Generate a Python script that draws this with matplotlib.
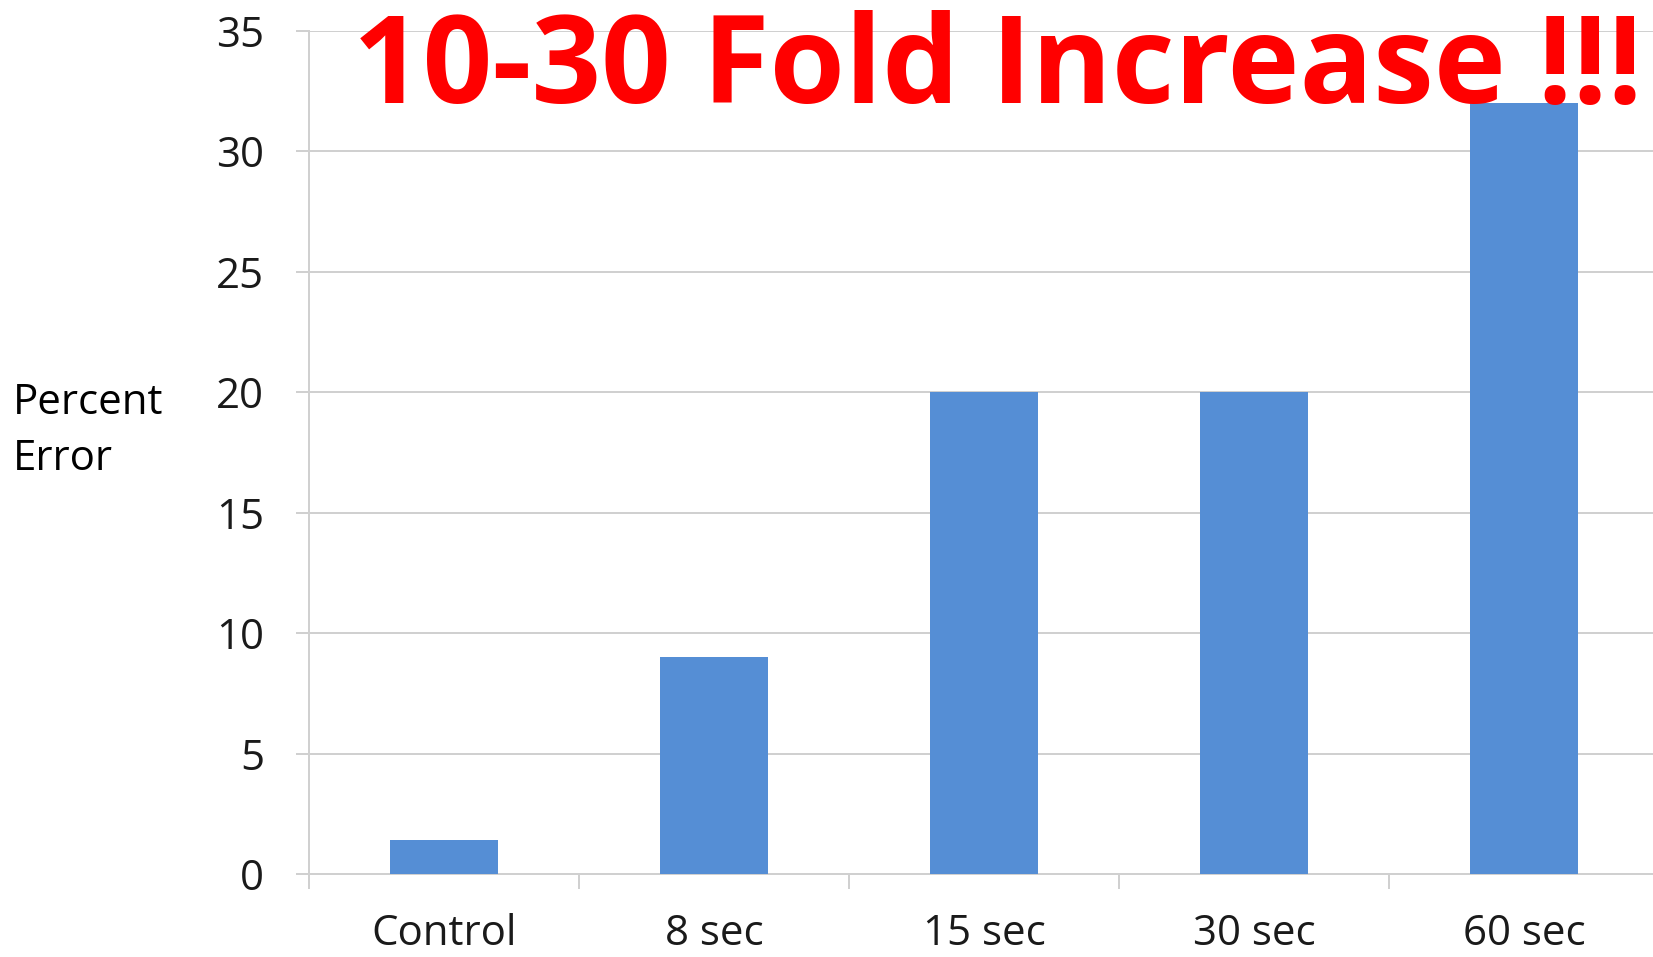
import matplotlib
matplotlib.use("Agg")
import matplotlib.pyplot as plt

categories = ["Control", "8 sec", "15 sec", "30 sec", "60 sec"]
percent_error = [1.4, 9, 20, 20, 32]
y_ticks = [0, 5, 10, 15, 20, 25, 30, 35]

W, H = 1653, 957
DPI = 72

plt.rcParams["font.family"] = ["Open Sans", "DejaVu Sans"]

fig = plt.figure(figsize=(W / DPI, H / DPI), dpi=DPI)
ax = fig.add_axes([309 / W, 83 / H, 1350 / W, 843 / H])

grid_col = "#D0D0D0"
x = list(range(len(categories)))
ax.bar(x, percent_error, width=0.4, color="#558ED5", zorder=3)

ax.set_xlim(-0.5, len(categories) - 0.5)
ax.set_ylim(0, 35)
ax.set_yticks(y_ticks)
ax.yaxis.grid(True, color=grid_col, linewidth=2)
ax.set_axisbelow(True)

for side in ("top", "right"):
    ax.spines[side].set_visible(False)
for side in ("left", "bottom"):
    ax.spines[side].set_color(grid_col)
    ax.spines[side].set_linewidth(2)

ax.tick_params(axis="y", length=13, width=2, color=grid_col, pad=32,
               labelsize=42, labelcolor="#1a1a1a")
ax.set_xticks(x)
ax.set_xticklabels(categories)
ax.set_xticks([i - 0.5 for i in range(len(categories) + 1)], minor=True)
ax.tick_params(axis="x", which="major", length=0, pad=39,
               labelsize=42, labelcolor="#1a1a1a")
ax.tick_params(axis="x", which="minor", length=15, width=2, color=grid_col)

fig.text(13 / W, 1 - 414 / H, "Percent", fontsize=42, color="black",
         ha="left", va="baseline")
fig.text(13 / W, 1 - 470 / H, "Error", fontsize=42, color="black",
         ha="left", va="baseline")

fig.text(353 / W, 1 - 103 / H, "10-30 Fold Increase !!!", fontsize=122,
         fontweight="bold", color="#FF0000", ha="left", va="baseline")

fig.savefig("out.png", dpi=DPI)
